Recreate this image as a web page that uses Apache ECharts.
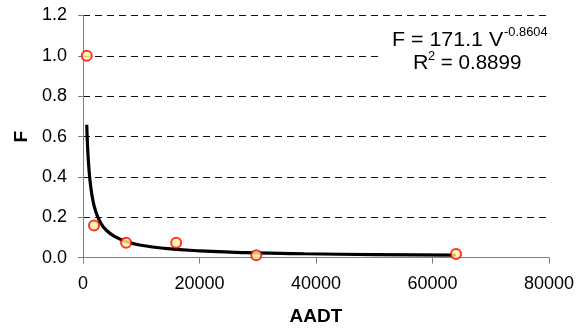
<!DOCTYPE html>
<html>
<head>
<meta charset="utf-8">
<script src="https://cdn.jsdelivr.net/npm/echarts@6/dist/echarts.min.js"></script>
<style>html,body{margin:0;padding:0;background:#fff;}#c{width:583px;height:333px;}</style>
</head>
<body>
<div id="c"></div>
<script>
// Observed data points (AADT, F)
var aadt = [640, 1890, 7400, 16000, 29750, 64040];
var fVals = [1.0, 0.159, 0.074, 0.074, 0.012, 0.018];
// Power trendline
var curveX = [640, 800, 1000, 1300, 1700, 2200, 3000, 4000, 5500, 7500, 10000, 14000, 20000, 28000, 38000, 50000, 64000];
var curveY = [0.659, 0.544, 0.449, 0.358, 0.284, 0.228, 0.174, 0.136, 0.104, 0.0793, 0.0618, 0.0463, 0.0341, 0.0255, 0.0196, 0.0155, 0.0125];
var xTicks = [0, 20000, 40000, 60000, 80000];
var yTicks = [0.0, 0.2, 0.4, 0.6, 0.8, 1.0, 1.2];
var eqMain = 'F = 171.1 V';
var eqExp = '-0.8604';
var r2Label = 'R';
var r2Exp = '2';
var r2Value = ' = 0.8899';

var chart = echarts.init(document.getElementById('c'));
var font = 'Liberation Sans, Arial, sans-serif';
chart.setOption({
  animation: false,
  backgroundColor: '#fff',
  grid: {left: 83, right: 34, top: 15.5, bottom: 75.3},
  xAxis: {
    type: 'value', min: xTicks[0], max: xTicks[xTicks.length-1], interval: 20000,
    name: 'AADT', nameLocation: 'middle', nameGap: 50,
    nameTextStyle: {fontFamily: font, fontWeight: 'bold', fontSize: 19, color: '#000'},
    axisLine: {show: true, onZero: false, lineStyle: {color: '#808080', width: 1}},
    axisTick: {show: true, inside: false, length: 6, lineStyle: {color: '#808080'}},
    axisLabel: {fontFamily: font, fontSize: 18, color: '#000', margin: 17,
      formatter: function(v){ return String(v); }},
    splitLine: {show: false}
  },
  yAxis: {
    type: 'value', min: yTicks[0], max: yTicks[yTicks.length-1], interval: 0.2,
    name: 'F', nameLocation: 'middle', nameGap: 52, nameRotate: 90,
    nameTextStyle: {fontFamily: font, fontWeight: 'bold', fontSize: 19, color: '#000'},
    axisLine: {show: true, lineStyle: {color: '#808080', width: 1}},
    axisTick: {show: true, length: 5, lineStyle: {color: '#808080'}},
    axisLabel: {fontFamily: font, fontSize: 18, color: '#000', margin: 16,
      formatter: function(v){ return v.toFixed(1); }},
    splitLine: {show: true, lineStyle: {color: '#111', type: [7, 5], width: 1}}
  },
  series: [
    {
      type: 'line', data: curveX.map(function(x,i){return [x, curveY[i]];}),
      smooth: true, showSymbol: false, symbol: 'none',
      lineStyle: {color: '#000', width: 3.2}, z: 2
    },
    {
      type: 'scatter', data: aadt.map(function(x,i){return [x, fVals[i]];}),
      symbol: 'circle', symbolSize: 10,
      itemStyle: {color: '#FFF8A0', borderColor: '#FF0000', borderWidth: 2}, z: 3
    }
  ],
  graphic: [
    {type: 'rect', shape: {x: 383, y: 26, width: 170, height: 58}, style: {fill: '#fff'}, z: 10},
    {type: 'text', x: 392, y: 30, scaleX: 1.07, z: 11, style: {text: eqMain, font: '20px ' + font, fill: '#000', verticalAlign: 'top'}},
    {type: 'text', x: 504, y: 27, scaleX: 1.07, z: 11, style: {text: eqExp, font: '12px ' + font, fill: '#000', verticalAlign: 'top'}},
    {type: 'text', x: 413, y: 53, scaleX: 1.07, z: 11, style: {text: r2Label, font: '20px ' + font, fill: '#000', verticalAlign: 'top'}},
    {type: 'text', x: 428, y: 51, scaleX: 1.07, z: 11, style: {text: r2Exp, font: '12px ' + font, fill: '#000', verticalAlign: 'top'}},
    {type: 'text', x: 435, y: 53, scaleX: 1.03, z: 11, style: {text: r2Value, font: '20px ' + font, fill: '#000', verticalAlign: 'top'}}
  ]
});
</script>
</body>
</html>
